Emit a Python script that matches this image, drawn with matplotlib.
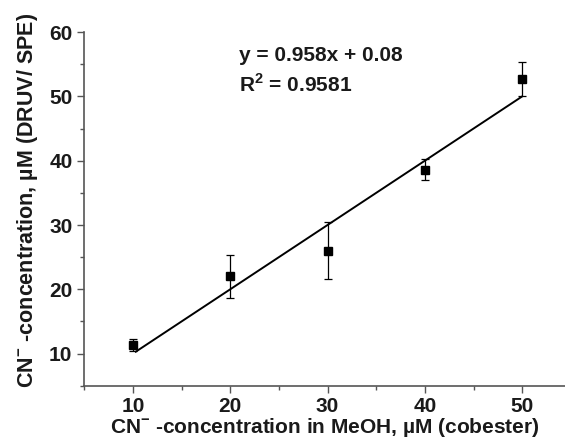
import matplotlib
matplotlib.use("Agg")
import matplotlib.pyplot as plt
from matplotlib.ticker import MultipleLocator

plt.rcParams['font.family'] = ['Liberation Sans', 'DejaVu Sans']
plt.rcParams['font.weight'] = 'bold'
plt.rcParams['axes.labelweight'] = 'bold'
plt.rcParams['mathtext.fontset'] = 'custom'
plt.rcParams['mathtext.rm'] = 'Liberation Sans:bold'
plt.rcParams['mathtext.bf'] = 'Liberation Sans:bold'

conc_meoh = [10, 20, 30, 40, 50]
conc_druv = [11.3, 22.0, 26.0, 38.6, 52.7]
err = [0.9, 3.3, 4.4, 1.6, 2.6]

# fitted line, drawn between its two ends
fit_x = [10.3, 50]
fit_y = [10.3, 50.0]

fig = plt.figure(figsize=(5.65, 4.46), dpi=100)
ax = fig.add_axes([0.149, 0.135, 0.851, 0.793])

ax.plot(fit_x, fit_y, color='black', lw=1.4)
ax.errorbar(conc_meoh, conc_druv, yerr=err, fmt='s', color='black',
            ms=6, elinewidth=0.9, capsize=3, capthick=0.9)

ax.set_xlim(5, 54.4)
ax.set_ylim(5, 60)
ax.xaxis.set_major_locator(MultipleLocator(10))
ax.xaxis.set_minor_locator(MultipleLocator(5))
ax.yaxis.set_major_locator(MultipleLocator(10))
ax.yaxis.set_minor_locator(MultipleLocator(5))

for s in ['top', 'right']:
    ax.spines[s].set_visible(False)
for s in ['left', 'bottom']:
    ax.spines[s].set_color('#555555')
    ax.spines[s].set_linewidth(1.2)
ax.tick_params(which='major', length=5, width=1, color='#555555',
               labelsize=15, labelcolor='#1a1a1a')
ax.tick_params(which='minor', length=3, width=1, color='#555555')
ax.tick_params(axis='x', pad=3)

ax.set_xlabel(r'CN$^{-}$ -concentration in MeOH, µM (cobester)',
              fontsize=15, color='#1a1a1a', labelpad=0)
ax.set_ylabel(r'CN$^{-}$ -concentration, µM (DRUV/ SPE)',
              fontsize=15.5, color='#1a1a1a')
ax.yaxis.set_label_coords(-0.092, 0.525)

ax.text(0.322, 0.935, 'y = 0.958x + 0.08', transform=ax.transAxes,
        fontsize=15, color='#1a1a1a', va='center')
ax.text(0.322, 0.853, r'R$^2$ = 0.9581', transform=ax.transAxes,
        fontsize=15, color='#1a1a1a', va='center')

fig.savefig('out.png', dpi=100)
